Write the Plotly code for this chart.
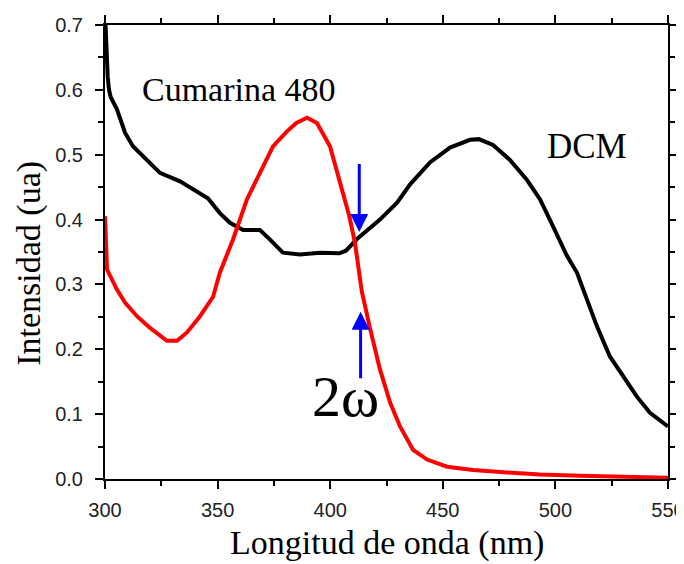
import plotly.graph_objects as go

# espectros
dcm_x = [300, 300.6, 301.2, 301.8, 302.5, 305.3, 308.9, 312.4, 318.6, 324.4, 333.3, 342.2,
         345.7, 351, 355.5, 361.3, 368.8, 373.3, 379, 386.6, 395.5, 404, 407, 411.9, 422.1,
         429.7, 435.4, 444.3, 453.2, 462.1, 466, 472.3, 479.8, 487.4, 493.2, 498.9, 505,
         509.6, 512.3, 518.5, 524.2, 530, 536.2, 542, 548.7, 550]
dcm_y = [0.72, 0.66, 0.62, 0.6, 0.589, 0.57, 0.534, 0.513, 0.492, 0.472, 0.459, 0.441,
         0.433, 0.41, 0.395, 0.384, 0.384, 0.369, 0.349, 0.346, 0.349, 0.348, 0.352, 0.370, 0.40,
         0.426, 0.454, 0.488, 0.511, 0.523, 0.524, 0.515, 0.492, 0.461, 0.431, 0.39, 0.345,
         0.318, 0.292, 0.235, 0.189, 0.158, 0.127, 0.102, 0.084, 0.081]

cum_x = [300, 300.5, 300.9, 305.3, 308.9, 314.2, 320, 327.5, 332, 336.4, 342.2, 348, 351,
         356.8, 363, 368.8, 374.6, 380.8, 385, 389.7, 394.1, 399.9, 404.4, 408.5, 411, 414,
         417.5, 422.1, 426.6, 431, 436.8, 443, 451.9, 463.4, 478.5, 493.2, 510.9, 533.1, 550]
cum_y = [0.405, 0.36, 0.323, 0.292, 0.272, 0.251, 0.233, 0.213, 0.213, 0.226, 0.251, 0.281, 0.318,
         0.369, 0.431, 0.472, 0.513, 0.536, 0.549, 0.557, 0.549, 0.513, 0.455, 0.405, 0.364, 0.29,
         0.235, 0.169, 0.118, 0.081, 0.045, 0.03, 0.019, 0.014, 0.01, 0.007, 0.005, 0.003, 0.002]

y_ticks = [0.0, 0.1, 0.2, 0.3, 0.4, 0.5, 0.6, 0.7]
y_labels = ["0.0", "0.1", "0.2", "0.3", "0.4", "0.5", "0.6", "0.7"]

serif = "Liberation Serif"
sans = "Liberation Sans"

fig = go.Figure()
fig.add_trace(go.Scatter(x=dcm_x, y=dcm_y, mode="lines", line=dict(color="black", width=4)))
fig.add_trace(go.Scatter(x=cum_x, y=cum_y, mode="lines", line=dict(color="#ff0000", width=4)))

# etiquetas
fig.add_annotation(x=359.5, y=0.60, text="Cumarina 480", showarrow=False,
                   font=dict(family=serif, size=34, color="black"))
fig.add_annotation(x=514, y=0.513, text="DCM", showarrow=False,
                   font=dict(family=serif, size=35, color="black"))
fig.add_annotation(x=406.8, y=0.127, text="2\u03c9", showarrow=False,
                   font=dict(family=serif, size=58, color="black"))

# flechas 2w
fig.add_annotation(x=412.9, y=0.381, ax=412.9, ay=0.488, axref="x", ayref="y",
                   text="", showarrow=True, arrowhead=2, arrowsize=1.2,
                   arrowwidth=3, arrowcolor="#0000ff")
fig.add_annotation(x=413.5, y=0.258, ax=413.5, ay=0.153, axref="x", ayref="y",
                   text="", showarrow=True, arrowhead=2, arrowsize=1.2,
                   arrowwidth=3, arrowcolor="#0000ff")

# titulos de ejes
fig.add_annotation(xref="paper", yref="paper", x=0.5, y=0, yshift=-64, yanchor="middle",
                   text="Longitud de onda (nm)", showarrow=False,
                   font=dict(family=serif, size=34, color="black"))
fig.add_annotation(xref="paper", yref="paper", x=0, xshift=-76, xanchor="center",
                   y=0.474, yanchor="middle", textangle=-90, borderpad=0,
                   text="Intensidad (ua)", showarrow=False,
                   font=dict(family=serif, size=34, color="black"))

fig.update_xaxes(range=[300, 550], dtick=50, tick0=300, showgrid=False, zeroline=False,
                 showline=True, linecolor="black", linewidth=2, mirror="ticks",
                 ticks="outside", ticklen=8, tickwidth=2, tickcolor="black",
                 minor=dict(ticks="outside", dtick=25, ticklen=5, tickwidth=2, tickcolor="black"),
                 tickfont=dict(family=sans, size=20, color="#222"), ticklabelstandoff=4,
                 ticklabeloverflow="allow", automargin=False)
fig.update_yaxes(range=[0, 0.7], tickvals=y_ticks, ticktext=y_labels, showgrid=False, zeroline=False,
                 showline=True, linecolor="black", linewidth=2, mirror="ticks",
                 ticks="outside", ticklen=8, tickwidth=2, tickcolor="black",
                 minor=dict(ticks="outside", dtick=0.05, ticklen=5, tickwidth=2, tickcolor="black"),
                 tickfont=dict(family=sans, size=20, color="#222"), ticklabelstandoff=8,
                 ticklabeloverflow="allow", automargin=False)

# la pagina deja 8 px de margen, por eso la figura es 8 px menor
fig.update_layout(width=676, height=556, showlegend=False,
                  margin=dict(l=97, r=16, t=17, b=85),
                  plot_bgcolor="white", paper_bgcolor="white")

fig.write_html("out.html")
